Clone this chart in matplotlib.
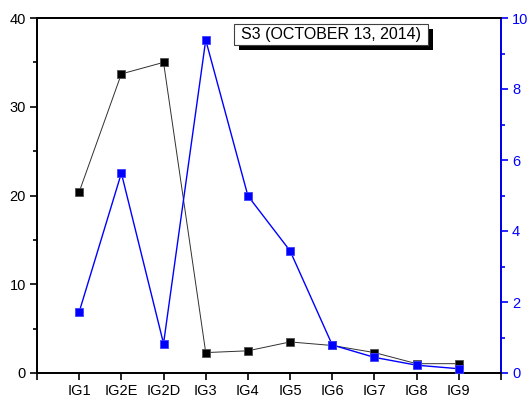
import matplotlib.pyplot as plt
import matplotlib.patches as mpatches
from matplotlib.ticker import MultipleLocator

plt.rcParams['font.family'] = ['Liberation Sans', 'DejaVu Sans']

sites = ['IG1', 'IG2E', 'IG2D', 'IG3', 'IG4', 'IG5', 'IG6', 'IG7', 'IG8', 'IG9']
left_vals = [20.4, 33.7, 35.0, 2.3, 2.5, 3.5, 3.1, 2.3, 1.05, 1.05]
right_vals = [1.72, 5.63, 0.83, 9.38, 4.99, 3.44, 0.79, 0.44, 0.22, 0.12]
label = 'S3 (OCTOBER 13, 2014)'

W, H = 529, 400
fig = plt.figure(figsize=(W / 100, H / 100), dpi=100)
ax = fig.add_axes([37 / W, 27 / H, 464 / W, 355 / H])
ax2 = ax.twinx()

x = list(range(1, len(sites) + 1))
ax.plot(x, left_vals, color='#303030', lw=0.7, marker='s', ms=6,
        mfc='black', mec='#505050', mew=0.6, zorder=3)
ax2.plot(x, right_vals, color='blue', lw=1.0, marker='s', ms=6,
         mfc='blue', mec='#4040ff', mew=0.6, zorder=3)

ax.set_xlim(0, 11)
ax.set_xticks(range(0, 12))
ax.set_xticklabels([''] + sites + [''])
ax.set_ylim(0, 40)
ax.yaxis.set_major_locator(MultipleLocator(10))
ax.yaxis.set_minor_locator(MultipleLocator(5))
ax2.set_ylim(0, 10)
ax2.yaxis.set_major_locator(MultipleLocator(2))
ax2.yaxis.set_minor_locator(MultipleLocator(1))

for a in (ax, ax2):
    for s in a.spines.values():
        s.set_linewidth(1.3)
ax2.spines['right'].set_color('blue')
ax.tick_params(axis='both', which='major', direction='out', length=5, width=1.2,
               labelsize=10.5, pad=3)
ax.tick_params(axis='y', which='minor', direction='out', length=3, width=1.2)
ax.tick_params(axis='x', pad=3)
ax2.tick_params(axis='y', which='major', direction='out', length=5, width=1.2,
                colors='blue', labelsize=10.5, pad=3)
ax2.tick_params(axis='y', which='minor', direction='out', length=3, width=1.2,
                colors='blue')

# label box with drop shadow, in pixel coordinates
def px(x0, y0, w, h, **kw):
    return mpatches.Rectangle((x0 / W, 1 - (y0 + h) / H), w / W, h / H,
                              transform=fig.transFigure, **kw)

fig.patches.append(px(239, 29, 194, 21, facecolor='black', edgecolor='none', zorder=5))
fig.patches.append(px(234, 24, 194, 21, facecolor='white', edgecolor='#404040',
                      lw=0.8, zorder=6))
fig.text(331 / W, 1 - 34.5 / H, label, ha='center', va='center', fontsize=11.5,
         zorder=7)

fig.savefig('out.png', dpi=100)
